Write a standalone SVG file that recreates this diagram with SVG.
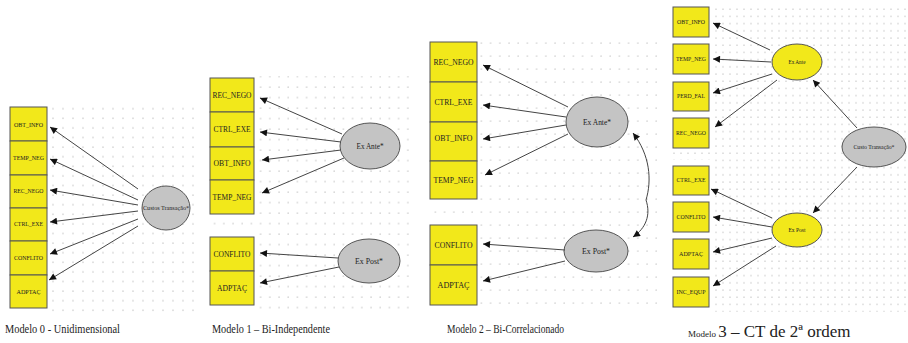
<svg xmlns="http://www.w3.org/2000/svg" width="908" height="343" viewBox="0 0 908 343">
<style>
.box{fill:#f2e81a;stroke:#555;stroke-width:1}
.lat{fill:#c4c4c4;stroke:#555;stroke-width:1}
.laty{fill:#f2e81a;stroke:#555;stroke-width:1}
.lbl{font-family:"Liberation Serif",serif;fill:#222;text-anchor:middle}
.cap{font-family:"Liberation Serif",serif;fill:#222}
.con line,.con path{stroke:#444;stroke-width:1;fill:none;marker-end:url(#ah)}
</style>
<defs>
<marker id="ah" viewBox="0 0 10 10" refX="10" refY="5" markerWidth="9" markerHeight="7" markerUnits="userSpaceOnUse" orient="auto-start-reverse"><path d="M0,0 L10,5 L0,10 z" fill="#111"/></marker>
<pattern id="p0" x="2" y="2" width="10" height="9.6" patternUnits="userSpaceOnUse"><circle cx="1" cy="1" r="0.6" fill="#999"/></pattern>
<pattern id="p1" x="2" y="2" width="9.2" height="10.5" patternUnits="userSpaceOnUse"><circle cx="1" cy="1" r="0.6" fill="#999"/></pattern>
<pattern id="p2" x="2" y="3" width="9.2" height="13" patternUnits="userSpaceOnUse"><circle cx="1" cy="1" r="0.6" fill="#999"/></pattern>
<pattern id="p3" x="1" y="1" width="7" height="7.2" patternUnits="userSpaceOnUse"><circle cx="1" cy="1" r="0.55" fill="#999"/></pattern>
</defs>
<g id="grids">
<rect x="48" y="106" width="148" height="206" fill="url(#p0)"/>
<rect x="256" y="76" width="160" height="236" fill="url(#p1)"/>
<rect x="210" y="218" width="46" height="14" fill="url(#p1)"/>
<rect x="479" y="38" width="178" height="272" fill="url(#p2)"/>
<rect x="430" y="203" width="49" height="16" fill="url(#p2)"/>
<rect x="710" y="4" width="198" height="308" fill="url(#p3)"/>
<rect x="673" y="150" width="37" height="10" fill="url(#p3)"/>
</g>

<g id="m0-obt_info"><rect class="box" x="10" y="107" width="37" height="34"/><text class="lbl" x="28.5" y="127" font-size="6.5" textLength="29" lengthAdjust="spacingAndGlyphs">OBT_INFO</text></g>
<g id="m0-temp_neg"><rect class="box" x="10" y="141" width="37" height="34"/><text class="lbl" x="28.5" y="160" font-size="6.5" textLength="31" lengthAdjust="spacingAndGlyphs">TEMP_NEG</text></g>
<g id="m0-rec_nego"><rect class="box" x="10" y="175" width="37" height="33"/><text class="lbl" x="28.5" y="193" font-size="6.5" textLength="30" lengthAdjust="spacingAndGlyphs">REC_NEGO</text></g>
<g id="m0-ctrl_exe"><rect class="box" x="10" y="208" width="37" height="33"/><text class="lbl" x="28.5" y="226" font-size="6.5" textLength="29" lengthAdjust="spacingAndGlyphs">CTRL_EXE</text></g>
<g id="m0-conflito"><rect class="box" x="10" y="241" width="37" height="34"/><text class="lbl" x="28.5" y="260" font-size="6.5" textLength="29" lengthAdjust="spacingAndGlyphs">CONFLITO</text></g>
<g id="m0-adptac"><rect class="box" x="10" y="275" width="37" height="33"/><text class="lbl" x="28.5" y="294" font-size="6.5" textLength="24" lengthAdjust="spacingAndGlyphs">ADPTAÇ</text></g>
<g id="m0-custos"><ellipse class="lat" cx="166" cy="208" rx="24" ry="22"/><text class="lbl" x="166" y="210" font-size="6" textLength="46" lengthAdjust="spacingAndGlyphs">Custos Transação*</text></g>

<g id="m1-rec_nego"><rect class="box" x="210" y="78" width="44" height="34"/><text class="lbl" x="232" y="98" font-size="8" textLength="39" lengthAdjust="spacingAndGlyphs">REC_NEGO</text></g>
<g id="m1-ctrl_exe"><rect class="box" x="210" y="112" width="44" height="35"/><text class="lbl" x="232" y="132" font-size="8" textLength="37" lengthAdjust="spacingAndGlyphs">CTRL_EXE</text></g>
<g id="m1-obt_info"><rect class="box" x="210" y="147" width="44" height="33"/><text class="lbl" x="232" y="166" font-size="8" textLength="37" lengthAdjust="spacingAndGlyphs">OBT_INFO</text></g>
<g id="m1-temp_neg"><rect class="box" x="210" y="180" width="44" height="34"/><text class="lbl" x="232" y="200" font-size="8" textLength="39" lengthAdjust="spacingAndGlyphs">TEMP_NEG</text></g>
<g id="m1-conflito"><rect class="box" x="210" y="237" width="44" height="34"/><text class="lbl" x="232" y="257" font-size="8" textLength="37" lengthAdjust="spacingAndGlyphs">CONFLITO</text></g>
<g id="m1-adptac"><rect class="box" x="210" y="271" width="44" height="34"/><text class="lbl" x="232" y="291" font-size="8" textLength="30" lengthAdjust="spacingAndGlyphs">ADPTAÇ</text></g>
<g id="m1-exante"><ellipse class="lat" cx="370" cy="146" rx="30" ry="23"/><text class="lbl" x="370" y="149" font-size="8" textLength="27" lengthAdjust="spacingAndGlyphs">Ex Ante*</text></g>
<g id="m1-expost"><ellipse class="lat" cx="369" cy="261" rx="31" ry="22"/><text class="lbl" x="369" y="264" font-size="8" textLength="28" lengthAdjust="spacingAndGlyphs">Ex Post*</text></g>

<g id="m2-rec_nego"><rect class="box" x="430" y="42" width="47" height="40"/><text class="lbl" x="453.5" y="65" font-size="8.5" textLength="40" lengthAdjust="spacingAndGlyphs">REC_NEGO</text></g>
<g id="m2-ctrl_exe"><rect class="box" x="430" y="82" width="47" height="40"/><text class="lbl" x="453.5" y="105" font-size="8.5" textLength="38" lengthAdjust="spacingAndGlyphs">CTRL_EXE</text></g>
<g id="m2-obt_info"><rect class="box" x="430" y="122" width="47" height="39"/><text class="lbl" x="453.5" y="141" font-size="8.5" textLength="38" lengthAdjust="spacingAndGlyphs">OBT_INFO</text></g>
<g id="m2-temp_neg"><rect class="box" x="430" y="161" width="47" height="38"/><text class="lbl" x="453.5" y="183" font-size="8.5" textLength="40" lengthAdjust="spacingAndGlyphs">TEMP_NEG</text></g>
<g id="m2-conflito"><rect class="box" x="430" y="225" width="47" height="40"/><text class="lbl" x="453.5" y="248" font-size="8.5" textLength="38" lengthAdjust="spacingAndGlyphs">CONFLITO</text></g>
<g id="m2-adptac"><rect class="box" x="430" y="265" width="47" height="40"/><text class="lbl" x="453.5" y="288" font-size="8.5" textLength="32" lengthAdjust="spacingAndGlyphs">ADPTAÇ</text></g>
<g id="m2-exante"><ellipse class="lat" cx="597" cy="122" rx="31" ry="25"/><text class="lbl" x="597" y="125" font-size="8.5" textLength="28" lengthAdjust="spacingAndGlyphs">Ex Ante*</text></g>
<g id="m2-expost"><ellipse class="lat" cx="596" cy="251" rx="32" ry="21"/><text class="lbl" x="596" y="254" font-size="8.5" textLength="28" lengthAdjust="spacingAndGlyphs">Ex Post*</text></g>

<g id="m3-obt_info"><rect class="box" x="673" y="7" width="36" height="30"/><text class="lbl" x="691" y="24" font-size="5.5" textLength="28" lengthAdjust="spacingAndGlyphs">OBT_INFO</text></g>
<g id="m3-temp_neg"><rect class="box" x="673" y="44" width="36" height="30"/><text class="lbl" x="691" y="61" font-size="5.5" textLength="30" lengthAdjust="spacingAndGlyphs">TEMP_NEG</text></g>
<g id="m3-perd_fal"><rect class="box" x="673" y="82" width="36" height="29"/><text class="lbl" x="691" y="98" font-size="5.5" textLength="28" lengthAdjust="spacingAndGlyphs">PERD_FAL</text></g>
<g id="m3-rec_nego"><rect class="box" x="673" y="118" width="36" height="30"/><text class="lbl" x="691" y="135" font-size="5.5" textLength="30" lengthAdjust="spacingAndGlyphs">REC_NEGO</text></g>
<g id="m3-ctrl_exe"><rect class="box" x="673" y="166" width="36" height="29"/><text class="lbl" x="691" y="182" font-size="5.5" textLength="29" lengthAdjust="spacingAndGlyphs">CTRL_EXE</text></g>
<g id="m3-conflito"><rect class="box" x="673" y="202" width="36" height="30"/><text class="lbl" x="691" y="219" font-size="5.5" textLength="29" lengthAdjust="spacingAndGlyphs">CONFLITO</text></g>
<g id="m3-adptac"><rect class="box" x="673" y="239" width="36" height="30"/><text class="lbl" x="691" y="256" font-size="5.5" textLength="24" lengthAdjust="spacingAndGlyphs">ADPTAÇ</text></g>
<g id="m3-inc_equp"><rect class="box" x="673" y="277" width="36" height="30"/><text class="lbl" x="691" y="294" font-size="5.5" textLength="29" lengthAdjust="spacingAndGlyphs">INC_EQUP</text></g>
<g id="m3-exante"><ellipse class="laty" cx="797" cy="62" rx="25" ry="18"/><text class="lbl" x="797" y="64" font-size="6" textLength="17" lengthAdjust="spacingAndGlyphs">Ex Ante</text></g>
<g id="m3-expost"><ellipse class="laty" cx="797" cy="230" rx="25" ry="17"/><text class="lbl" x="797" y="232" font-size="6" textLength="17" lengthAdjust="spacingAndGlyphs">Ex Post</text></g>
<g id="m3-custo"><ellipse class="lat" cx="874" cy="147" rx="32" ry="20"/><text class="lbl" x="874" y="149" font-size="6" textLength="41" lengthAdjust="spacingAndGlyphs">Custo Transação*</text></g>

<g id="connectors" class="con">
<line x1="138" y1="189" x2="50" y2="127"/>
<line x1="138" y1="200" x2="50" y2="159"/>
<line x1="138" y1="205" x2="50" y2="190"/>
<line x1="138" y1="211" x2="50" y2="222"/>
<line x1="138" y1="219" x2="50" y2="254"/>
<line x1="138" y1="226" x2="49" y2="280"/>

<line x1="342" y1="134" x2="260" y2="98"/>
<line x1="341" y1="142" x2="260" y2="132"/>
<line x1="341" y1="150" x2="262" y2="160"/>
<line x1="344" y1="158" x2="262" y2="193"/>
<line x1="338" y1="258" x2="260" y2="253"/>
<line x1="339" y1="267" x2="260" y2="283"/>

<line x1="568" y1="107" x2="483" y2="65"/>
<line x1="566" y1="117" x2="483" y2="105"/>
<line x1="566" y1="125" x2="483" y2="139"/>
<line x1="568" y1="134" x2="485" y2="175"/>
<line x1="565" y1="250" x2="483" y2="244"/>
<line x1="565" y1="261" x2="483" y2="281"/>
<path d="M646,200 C652,180 650,155 633,133"/>
<path d="M646,200 C651,215 646,228 633,237"/>

<line x1="857" y1="128" x2="813" y2="80"/>
<line x1="857" y1="167" x2="813" y2="213"/>
<line x1="770" y1="50" x2="713" y2="23"/>
<line x1="771" y1="62" x2="713" y2="59"/>
<line x1="772" y1="74" x2="713" y2="93"/>
<line x1="777" y1="80" x2="715" y2="127"/>
<line x1="772" y1="218" x2="711" y2="189"/>
<line x1="772" y1="227" x2="713" y2="217"/>
<line x1="772" y1="238" x2="713" y2="252"/>
<line x1="776" y1="246" x2="713" y2="286"/>
</g>

<g id="captions">
<text class="cap" x="5" y="333" font-size="11.5" textLength="115" lengthAdjust="spacingAndGlyphs">Modelo 0 - Unidimensional</text>
<text class="cap" x="212" y="333" font-size="11.5" textLength="118" lengthAdjust="spacingAndGlyphs">Modelo 1 – Bi-Independente</text>
<text class="cap" x="447" y="333" font-size="11.5" textLength="117" lengthAdjust="spacingAndGlyphs">Modelo 2 – Bi-Correlacionado</text>
<text class="cap" x="688" y="337"><tspan font-size="9">Modelo </tspan><tspan font-size="17">3 – CT de 2ª ordem</tspan></text>
</g>
</svg>
